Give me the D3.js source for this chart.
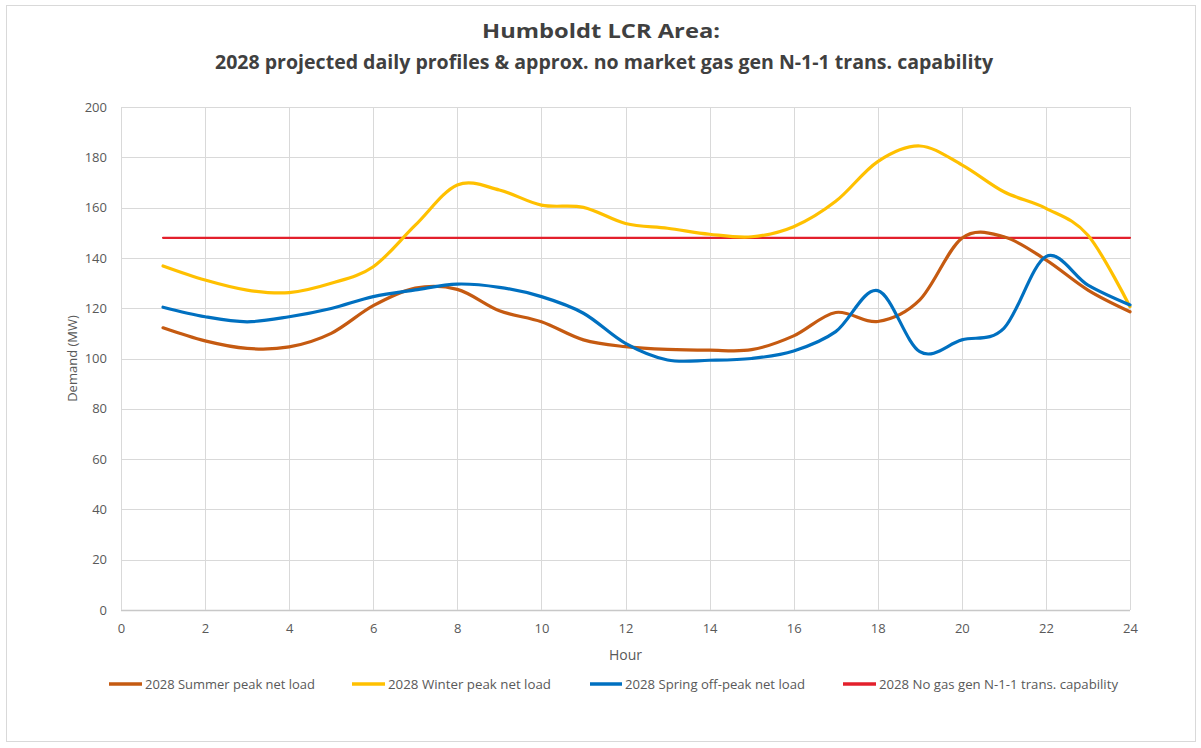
<!DOCTYPE html>
<html>
<head>
<meta charset="utf-8">
<script src="https://cdn.jsdelivr.net/npm/d3@7"></script>
<style>
  html, body { margin: 0; padding: 0; background: #fff; }
  svg { display: block; }
  text { font-family: "Open Sans", "Liberation Sans", sans-serif; }
</style>
</head>
<body>
<svg id="chart" width="1201" height="748"></svg>
<script>
// ---- data ----
const hours = [1,2,3,4,5,6,7,8,9,10,11,12,13,14,15,16,17,18,19,20,21,22,23,24];
const summerPeak = [112.2,107,104,104.6,110,121,128,127.5,119,114.6,107.4,104.7,103.6,103.3,103.5,109,118.3,114.7,123.3,147.8,148.4,139.2,127.2,118.6];
const winterPeak = [136.8,131.2,127.2,126.2,129.9,136.5,153,169,167,161,160.1,153.7,151.8,149.4,148.4,152.4,162.5,178.3,184.5,177,166.3,159.7,149,120.6];
const springOffPeak = [120.4,116.6,114.6,116.6,119.9,124.6,127.3,129.6,128.3,124.6,118,106,99.4,99.3,100,103,110.7,127,102.7,107.4,112,140.5,129.2,121.3];
const transCapability = [148,148,148,148,148,148,148,148,148,148,148,148,148,148,148,148,148,148,148,148,148,148,148,148];
const xTicks = [0,2,4,6,8,10,12,14,16,18,20,22,24];
const yTicks = [0,20,40,60,80,100,120,140,160,180,200];
const seriesNames = ["2028 Summer peak net load","2028 Winter peak net load","2028 Spring off-peak net load","2028 No gas gen N-1-1 trans. capability"];
const titleLines = ["Humboldt LCR Area:","2028 projected daily profiles & approx. no market gas gen N-1-1 trans. capability"];

// ---- layout ----
const svg = d3.select("#chart");
const W = 1201, H = 748;
const plot = {left: 121, right: 1130, top: 107, bottom: 610};
const x = d3.scaleLinear().domain([0,24]).range([plot.left, plot.right]);
const y = d3.scaleLinear().domain([0,200]).range([plot.bottom, plot.top]);

svg.append("rect").attr("x",0).attr("y",0).attr("width",W).attr("height",H).attr("fill","#fff");
svg.append("rect").attr("x",6.5).attr("y",5.5).attr("width",1189).attr("height",736)
  .attr("fill","none").attr("stroke","#d9d9d9").attr("stroke-width",1);

// title
const titleG = svg.append("g");
titleG.append("text").attr("x",601).attr("y",38).attr("text-anchor","middle")
  .attr("font-size",19).attr("font-weight","bold").attr("fill","#404040")
  .attr("textLength",238).attr("lengthAdjust","spacingAndGlyphs").text(titleLines[0]);
titleG.append("text").attr("x",604).attr("y",69).attr("text-anchor","middle")
  .attr("font-size",19).attr("font-weight","bold").attr("fill","#404040")
  .attr("textLength",778).attr("lengthAdjust","spacingAndGlyphs").text(titleLines[1]);

// gridlines
const grid = svg.append("g");
grid.selectAll(".hg").data(yTicks).join("line")
  .attr("x1",plot.left).attr("x2",plot.right)
  .attr("y1",d=>Math.round(y(d))+0.5).attr("y2",d=>Math.round(y(d))+0.5)
  .attr("stroke",d=>d===0?"#c8c8c8":"#d9d9d9").attr("stroke-width",d=>d===0?1.5:1);
grid.selectAll(".vg").data(xTicks).join("line")
  .attr("x1",d=>Math.round(x(d))+0.5).attr("x2",d=>Math.round(x(d))+0.5)
  .attr("y1",plot.top).attr("y2",plot.bottom)
  .attr("stroke","#d9d9d9").attr("stroke-width",1);

// axes (labels only)
const xAxis = d3.axisBottom(x).tickValues(xTicks).tickSize(0).tickPadding(14);
const gx = svg.append("g").attr("transform",`translate(0,${plot.bottom})`).call(xAxis);
gx.select(".domain").remove();
gx.selectAll("text").attr("font-size",13).attr("fill","#595959")
  .attr("font-family","'Open Sans', 'Liberation Sans', sans-serif");

const yAxis = d3.axisLeft(y).tickValues(yTicks).tickSize(0).tickPadding(14);
const gy = svg.append("g").attr("transform",`translate(${plot.left},0)`).call(yAxis);
gy.select(".domain").remove();
gy.selectAll("text").attr("font-size",13).attr("fill","#595959")
  .attr("font-family","'Open Sans', 'Liberation Sans', sans-serif");

// axis titles
svg.append("text").attr("x",(plot.left+plot.right)/2).attr("y",660).attr("text-anchor","middle")
  .attr("font-size",14).attr("fill","#595959").text("Hour");
svg.append("text").attr("transform",`translate(77,${(plot.top+plot.bottom)/2}) rotate(-90)`)
  .attr("text-anchor","middle").attr("font-size",13).attr("fill","#595959").text("Demand (MW)");

// series
const colors = ["#c55a11","#ffc000","#0070c0","#e3202c"];
const widths = [3.2,3.2,3.2,2.2];
const allSeries = [summerPeak, winterPeak, springOffPeak, transCapability];
const line = d3.line().x((d,i)=>x(hours[i])).y(d=>y(d)).curve(d3.curveCardinal.tension(0));
const drawOrder = [3,0,1,2];
drawOrder.forEach(k=>{
  svg.append("path").datum(allSeries[k]).attr("d",line)
    .attr("fill","none").attr("stroke",colors[k]).attr("stroke-width",widths[k])
    .attr("stroke-linejoin","round").attr("stroke-linecap","round");
});

// legend
const legendItems = [
  {lx:109, tx:145, tw:170},
  {lx:352, tx:388, tw:163},
  {lx:590, tx:625, tw:180},
  {lx:843, tx:879, tw:239}
];
const lg = svg.append("g");
legendItems.forEach((it,k)=>{
  lg.append("line").attr("x1",it.lx).attr("x2",it.tx-3).attr("y1",684).attr("y2",684)
    .attr("stroke",colors[k]).attr("stroke-width",3.5);
  lg.append("text").attr("x",it.tx).attr("y",689).attr("font-size",13).attr("fill","#595959")
    .attr("textLength",it.tw).attr("lengthAdjust","spacingAndGlyphs").text(seriesNames[k]);
});
</script>
</body>
</html>
